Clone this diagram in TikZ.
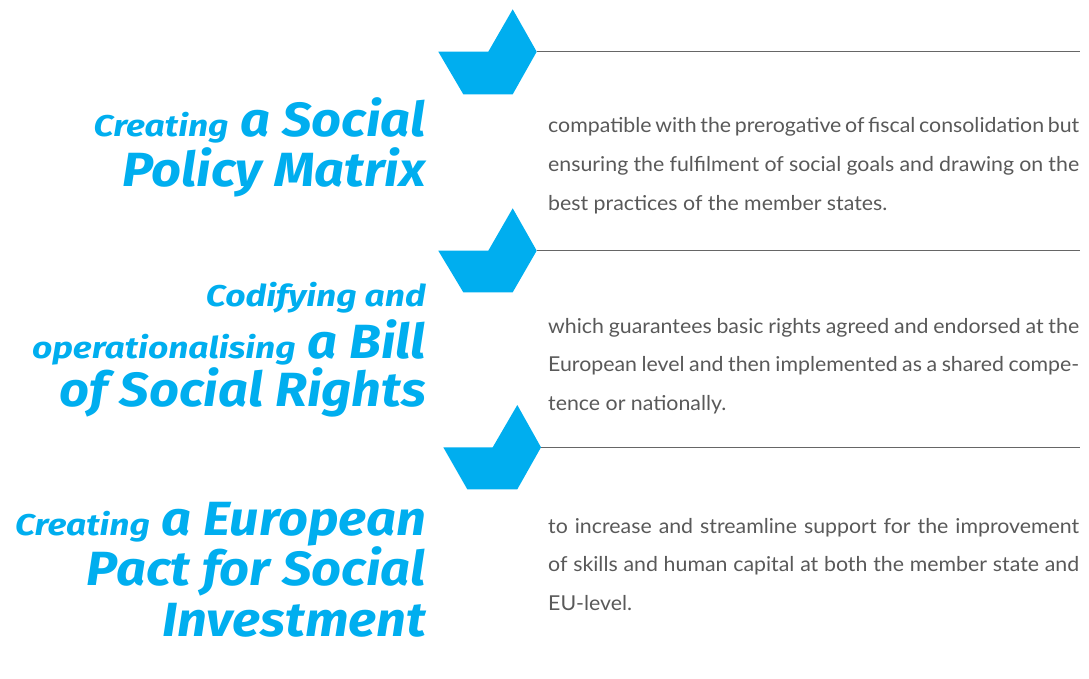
\documentclass[tikz,border=0pt]{standalone}
\usepackage{fontspec}
\newfontfamily\titlefont[FakeStretch=1.09]{Fira Sans}
\newfontfamily\smallfont[FakeStretch=1.18]{Fira Sans}
\newfontfamily\bodyfont[FakeStretch=1.04]{Lato}
\definecolor{eublue}{HTML}{00AEEF}
\definecolor{bodygray}{HTML}{595959}
\definecolor{rulegray}{HTML}{666666}
\begin{document}
\begin{tikzpicture}[x=1pt,y=-1pt,
  chev/.style={fill=eublue,draw=none},
  rule/.style={draw=rulegray,line width=0.9pt},
  ttl/.style={anchor=base east,inner sep=0pt,text=eublue,font=\titlefont\bfseries\itshape\fontsize{48}{48}\selectfont},
  body/.style={anchor=base west,inner sep=0pt,text=bodygray,font=\bodyfont\fontsize{20.5}{21}\selectfont}]
\useasboundingbox (0,0) rectangle (1089,679);
\newcommand{\jl}[1]{\makebox[531pt][s]{#1}}
\newcommand{\sw}[1]{{\smallfont\bfseries\itshape\fontsize{30}{30}\selectfont #1}}
% chevrons
\fill[chev] (438.3,51.7) -- (488.3,51.7) -- (512.7,9.3) -- (536.7,51.7) coordinate (r1) -- (512.7,94.3) -- (463.3,94.3) -- cycle;
\fill[chev] (438.3,250.7) -- (488.3,250.7) -- (512.7,208.3) -- (536.7,250.7) coordinate (r2) -- (512.7,292.3) -- (463.3,292.3) -- cycle;
\fill[chev] (443.3,447.3) -- (492.7,447.3) -- (517.3,405) -- (541,447.3) coordinate (r3) -- (517.3,489.3) -- (467.3,489.3) -- cycle;
\coordinate (e1) at (1080,51.7);
\coordinate (e2) at (1080,250.7);
\coordinate (e3) at (1080,447.3);
\draw[rule] (r1) -- (e1);
\draw[rule] (r2) -- (e2);
\draw[rule] (r3) -- (e3);
% titles
\node[ttl] (t1a) at (426,136.7) {\sw{Creating} a Social};
\node[ttl] (t1b) at (426,186.7) {Policy Matrix};
\node[ttl] (t2a) at (426,306.7) {\sw{Codifying and}};
\node[ttl] (t2b) at (426,358.3) {\sw{operationalising} a Bill};
\node[ttl] (t2c) at (426,406.7) {of Social Rights};
\node[ttl] (t3a) at (426,535) {\sw{Creating} a European};
\node[ttl] (t3b) at (426,585) {Pact for Social};
\node[ttl] (t3c) at (426,636.7) {Investment};
% body
\node[body] (b1a) at (548,133) {\jl{compatible with the prerogative of fiscal consolidation but}};
\node[body] (b1b) at (548,171.7) {\jl{ensuring the fulfilment of social goals and drawing on the}};
\node[body] (b1c) at (548,210.3) {best practices of the member states.};
\node[body] (b2a) at (548,333.3) {\jl{which guarantees basic rights agreed and endorsed at the}};
\node[body] (b2b) at (548,371.7) {\jl{European level and then implemented as a shared compe-}};
\node[body] (b2c) at (548,410) {tence or nationally.};
\node[body] (b3a) at (548,533.3) {\jl{to increase and streamline support for the improvement}};
\node[body] (b3b) at (548,571.7) {\jl{of skills and human capital at both the member state and}};
\node[body] (b3c) at (548,610) {EU-level.};
\end{tikzpicture}
\end{document}
